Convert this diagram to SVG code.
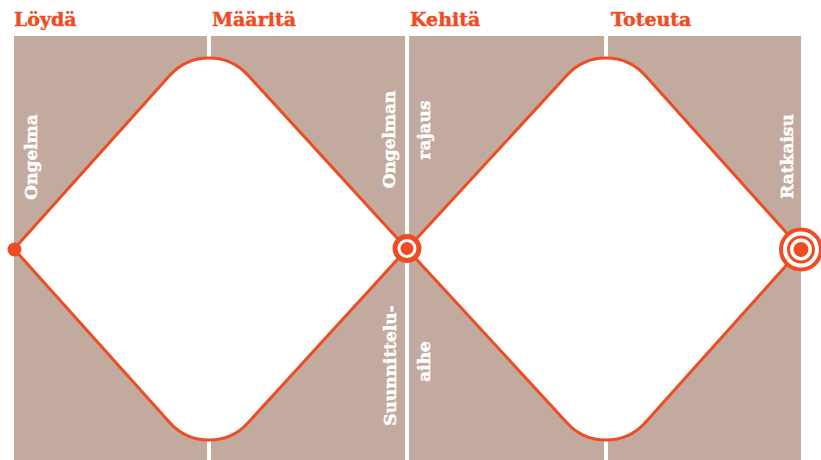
<svg xmlns="http://www.w3.org/2000/svg" width="821" height="460" viewBox="0 0 821 460">
  <style>
    .hdr { font-family: "DejaVu Serif", "Liberation Serif", serif; font-weight: bold; font-size: 19px; fill: #EE4D24; stroke: #EE4D24; stroke-width: 0.45; }
    .lbl { font-family: "DejaVu Serif", "Liberation Serif", serif; font-weight: bold; font-size: 17px; fill: #FFFFFF; stroke: #FFFFFF; stroke-width: 0.45; text-anchor: middle; }
    .lane { stroke: #FFFFFF; stroke-width: 4; }
    .diamond { fill: #FFFFFF; stroke: #EE4D24; stroke-width: 3; stroke-linejoin: miter; }
    .or { fill: #EE4D24; }
  </style>
  <rect id="background" x="14" y="36" width="787" height="424" fill="#C2AB9E"/>
  <g id="lanes">
    <line class="lane" x1="209" y1="36" x2="209" y2="460"/>
    <line class="lane" x1="407" y1="36" x2="407" y2="460"/>
    <line class="lane" x1="606" y1="36" x2="606" y2="460"/>
  </g>
  <g id="headers">
    <text class="hdr" x="14" y="26">Löydä</text>
    <text class="hdr" x="212" y="26">Määritä</text>
    <text class="hdr" x="410" y="26">Kehitä</text>
    <text class="hdr" x="611" y="26">Toteuta</text>
  </g>
  <g id="connectors">
    <path id="diamond-1" class="diamond" d="M14,249 L169.9,75.3 A52.8,52.8 0 0 1 248.1,75.3 L407,249 L248.1,422.7 A52.8,52.8 0 0 1 169.9,422.7 Z"/>
    <path id="diamond-2" class="diamond" d="M407,249 L566.9,75.3 A52.8,52.8 0 0 1 645.1,75.3 L801,249 L645.1,422.7 A52.8,52.8 0 0 1 566.9,422.7 Z"/>
  </g>
  <g id="node-ongelma">
    <circle class="or" cx="14.5" cy="249.5" r="7"/>
    <text class="lbl" transform="translate(36.5,157) rotate(-90)">Ongelma</text>
  </g>
  <g id="node-rajaus">
    <circle cx="407" cy="248.5" r="12" fill="#FFFFFF" stroke="#EE4D24" stroke-width="5"/>
    <circle class="or" cx="407" cy="248.5" r="6.5"/>
    <text class="lbl" transform="translate(395,139.5) rotate(-90)">Ongelman</text>
    <text class="lbl" transform="translate(430,130) rotate(-90)">rajaus</text>
  </g>
  <g id="node-aihe">
    <text class="lbl" transform="translate(396,365.5) rotate(-90)">Suunnittelu-</text>
    <text class="lbl" transform="translate(430,361.5) rotate(-90)">aihe</text>
  </g>
  <g id="node-ratkaisu">
    <circle cx="801" cy="249.5" r="20" fill="#FFFFFF" stroke="#EE4D24" stroke-width="4"/>
    <circle cx="801" cy="249.5" r="12.5" fill="#FFFFFF" stroke="#EE4D24" stroke-width="3"/>
    <circle class="or" cx="801" cy="249.5" r="7.5"/>
    <text class="lbl" transform="translate(793,156.5) rotate(-90)">Ratkaisu</text>
  </g>
</svg>
